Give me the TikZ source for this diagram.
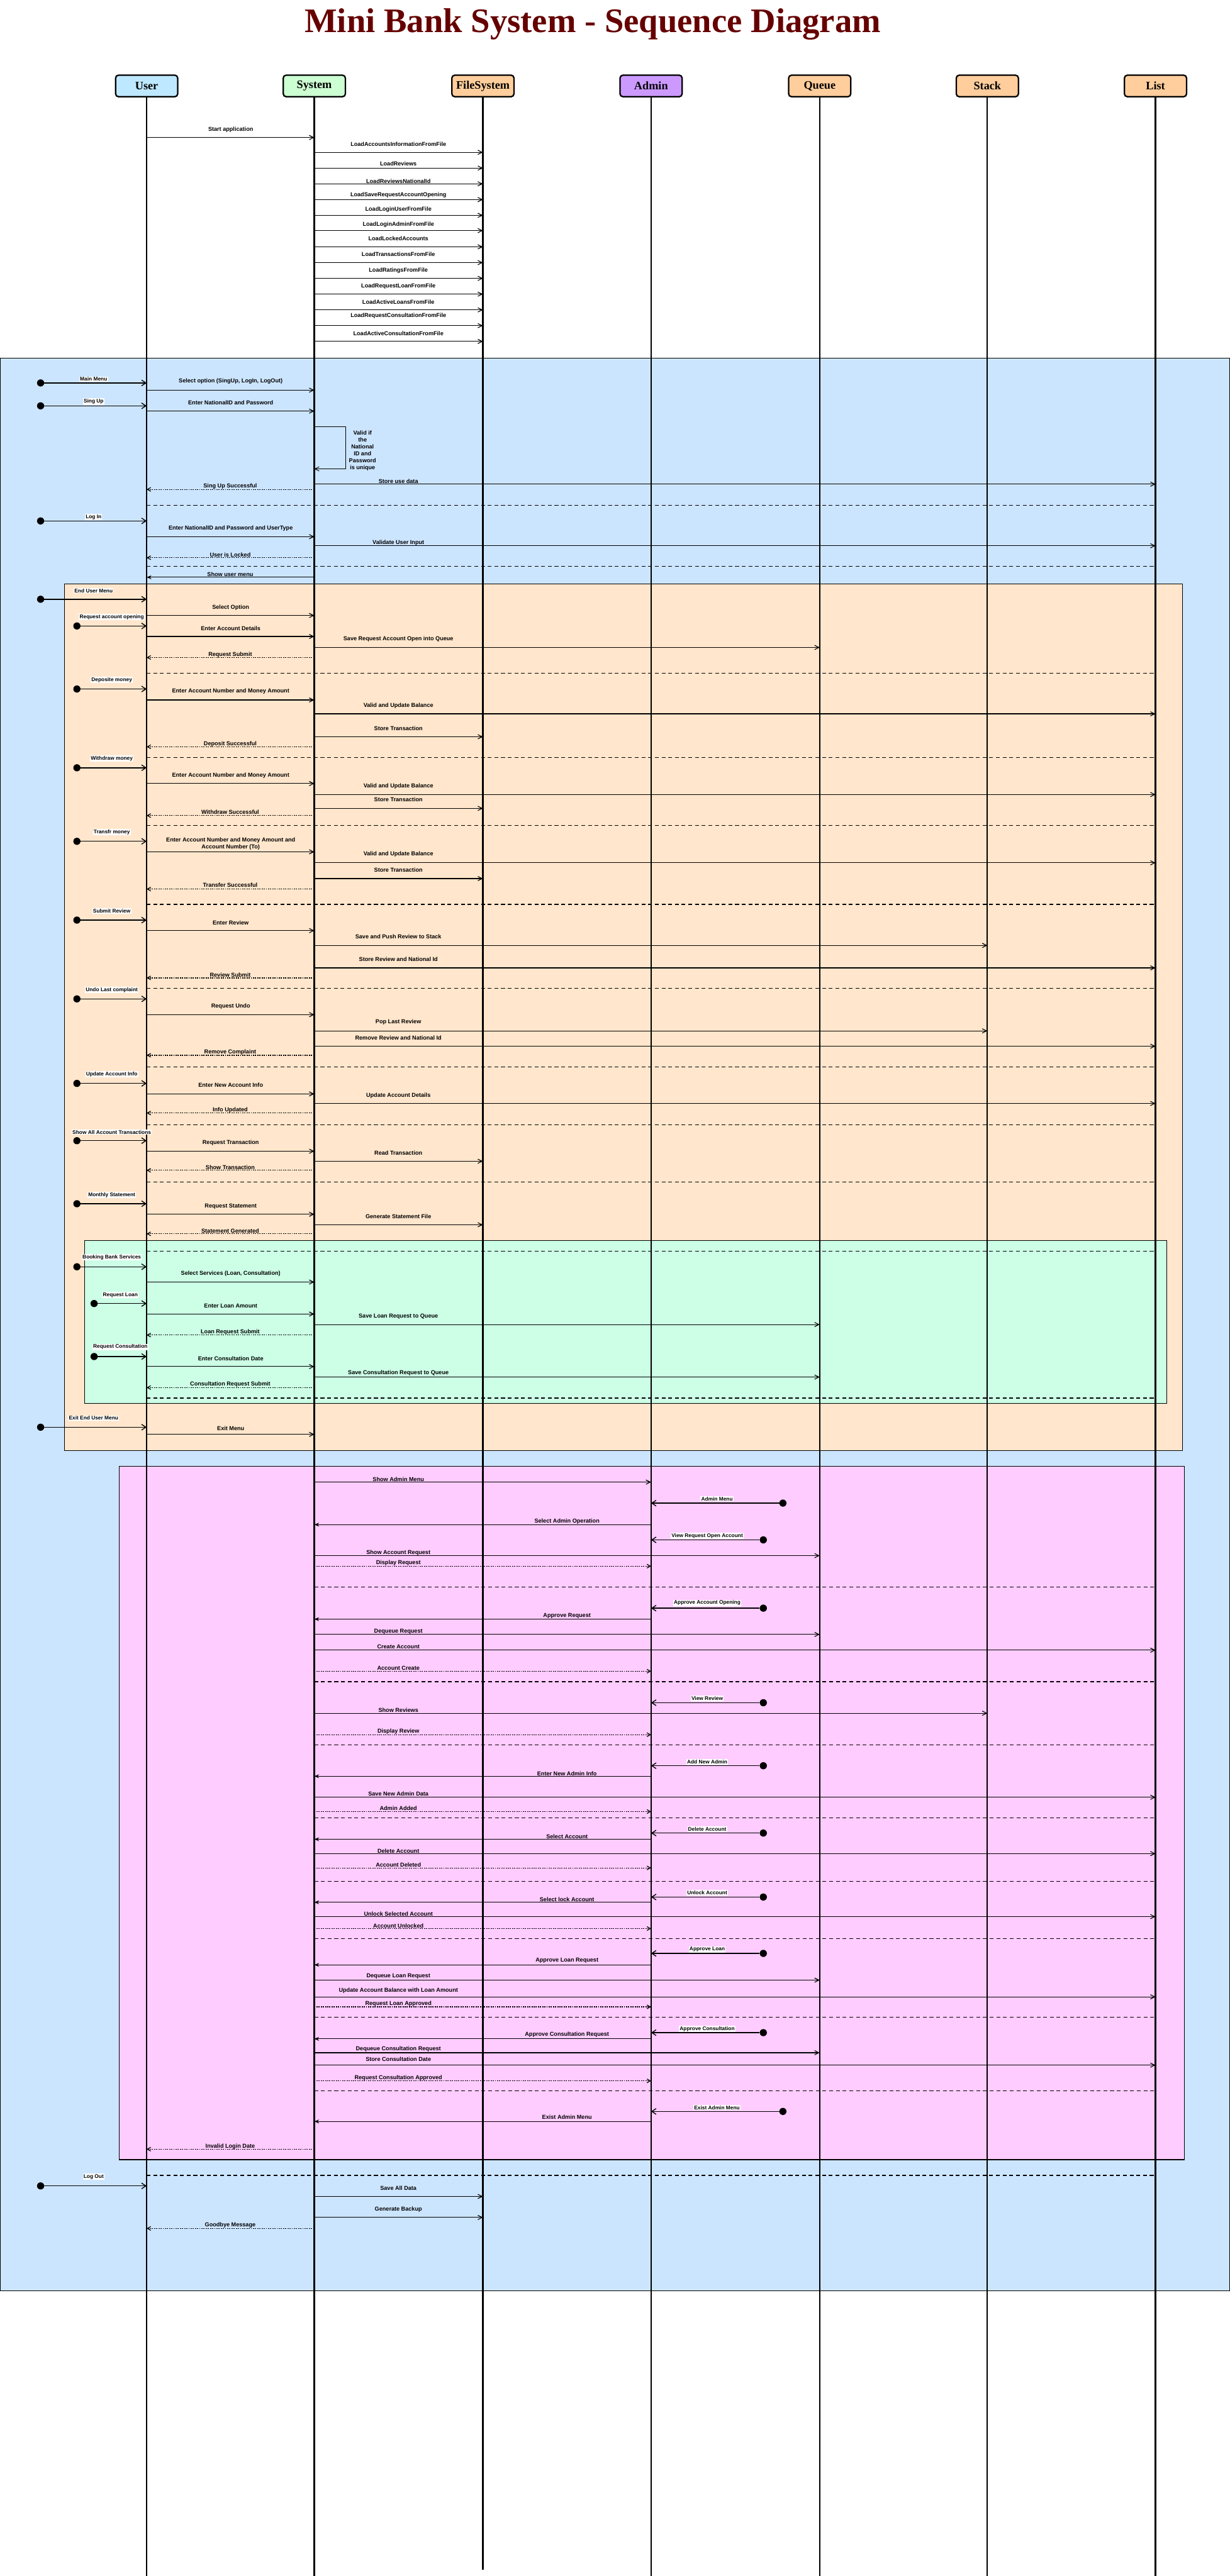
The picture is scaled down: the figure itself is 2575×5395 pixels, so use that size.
\documentclass[tikz,border=0pt]{standalone}
\usepackage{fontspec}
\setmainfont{Liberation Sans}
\newfontfamily\titlefont{Liberation Serif}
\usepackage{tikz}
\usetikzlibrary{arrows.meta, calc}
\usepackage{xcolor}
\definecolor{titlered}{RGB}{102, 0, 0}
\definecolor{userblue}{RGB}{190, 232, 255}
\definecolor{sysgreen}{RGB}{204, 255, 210}
\definecolor{storeorange}{RGB}{255, 206, 156}
\definecolor{adminpurple}{RGB}{204, 153, 255}
\definecolor{frameblue}{RGB}{204, 229, 255}
\definecolor{frameorange}{RGB}{255, 230, 204}
\definecolor{framegreen}{RGB}{204, 255, 230}
\definecolor{framepink}{RGB}{255, 204, 255}

% style, from, to, arrow y, label y, text
\newcommand{\seqmsg}[6]{%
  \draw[#1] (#2 |- 0,#4) -- (#3 |- 0,#4);
  \node[msglabel] at ($(#2 |- 0,#5)!176pt!(#3 |- 0,#5)$) {#6};}
% name, lifeline, x, y, label y, text
\newcommand{\seqstart}[6]{%
  \node[startdot] (#1) at (#3,#4) {};
  \draw[entry] (#1) -- (#2 |- #1);
  \node[dotlabel] at ($(#1 |- 0,#5)!0.5!(#2 |- 0,#5)$) {#6};}
\newcommand{\seqsep}[3]{\draw[sep] (#1 |- 0,#3) -- (#2 |- 0,#3);}

\begin{document}
\begin{tikzpicture}[
  x=1pt, y=-1pt,
  actor/.style={draw=black, line width=3pt, rounded corners=6pt, minimum width=130pt, minimum height=45pt,
    font=\titlefont\fontsize{24}{28}\selectfont\bfseries},
  lifeline/.style={line width=3pt},
  frame/.style={draw=black, line width=1.5pt},
  call/.style={line width=1.5pt, -{Straight Barb[length=9pt, width=9pt]}},
  back/.style={line width=1.5pt, -{Stealth[length=10pt, width=8pt]}},
  ret/.style={line width=1.6pt, dash pattern=on 2.5pt off 2pt, -{Straight Barb[length=7pt, width=8pt]}},
  entry/.style={line width=1.8pt, -{Straight Barb[length=9pt, width=12pt]}},
  sep/.style={line width=1.5pt, dash pattern=on 8pt off 6pt},
  startdot/.style={circle, fill=black, inner sep=0pt, minimum size=15pt},
  msglabel/.style={font=\fontsize{12}{15}\selectfont\bfseries, inner sep=0pt, align=center},
  dotlabel/.style={fill=white, inner sep=1.5pt, font=\fontsize{11}{13}\selectfont\bfseries}
]
  \useasboundingbox (0,0) rectangle (2575,5395);
  \fill[white] (0,0) rectangle (2575,5395);

  \node[anchor=base, text=titlered, font=\titlefont\fontsize{72}{80}\selectfont\bfseries] (title) at (1241,68)
    {Mini Bank System - Sequence Diagram};

  \draw[frame, fill=frameblue]   (0,750) rectangle (2575,4798);
  \draw[frame, fill=frameorange] (135,1223) rectangle (2475,3038);
  \draw[frame, fill=framegreen]  (177,2598) rectangle (2443,2939);
  \draw[frame, fill=framepink]   (250,3071) rectangle (2480,4523);

  \node[actor, fill=userblue]    (user)    at (307,180)  {User};
  \node[actor, fill=sysgreen]    (system)  at (658,180)  {System};
  \node[actor, fill=storeorange] (filesys) at (1011,180) {FileSystem};
  \node[actor, fill=adminpurple] (admin)   at (1363,180) {Admin};
  \node[actor, fill=storeorange] (queue)   at (1716,180) {Queue};
  \node[actor, fill=storeorange] (stack)   at (2067,180) {Stack};
  \node[actor, fill=storeorange] (list)    at (2419,180) {List};

  \foreach \n in {user, system, admin, queue, stack, list}
    \draw[lifeline] (\n.south) -- (\n |- 0,5395);
  \draw[lifeline] (filesys.south) -- (filesys |- 0,5382);

  \seqmsg{call}{user}{system}{288}{271}{Start application}
  \foreach \ay/\ly/\txt in {319/302/LoadAccountsInformationFromFile, 352/343/LoadReviews,
      385/379/LoadReviewsNationalId, 418/408/LoadSaveRequestAccountOpening,
      451/439/LoadLoginUserFromFile, 483/470/LoadLoginAdminFromFile,
      517/500/LoadLockedAccounts, 550/532/LoadTransactionsFromFile,
      583/566/LoadRatingsFromFile, 616/600/LoadRequestLoanFromFile,
      649/632/LoadActiveLoansFromFile, 682/662/LoadRequestConsultationFromFile,
      715/698/LoadActiveConsultationFromFile}
    {\seqmsg{call}{system}{filesys}{\ay}{\ly}{\txt}}

  \seqstart{mainmenu}{user}{85}{802}{794}{Main Menu}
  \seqmsg{call}{user}{system}{817}{799}{Select option (SingUp, LogIn, LogOut)}
  \seqstart{singup}{user}{85}{850}{841}{Sing Up}
  \seqmsg{call}{user}{system}{861}{843}{Enter NationalID and Password}
  \draw[line width=1.2pt, -{Straight Barb[length=9pt, width=9pt]}] (system |- 0,893) -- ++(66,0) |- (system |- 0,982);
  \node[msglabel, font=\fontsize{12}{14.5}\selectfont\bfseries] (unique) at (759,944)
    {Valid if\\the\\National\\ID and\\Password\\is unique};
  \seqmsg{call}{system}{list}{1014}{1008}{Store use data}
  \seqmsg{ret}{system}{user}{1025}{1019}{Sing Up Successful}
  \seqsep{user}{list}{1058}
  \seqstart{login}{user}{85}{1091}{1083}{Log In}
  \seqmsg{call}{user}{system}{1124}{1107}{Enter NationalID and Password and UserType}
  \seqmsg{call}{system}{list}{1143}{1137}{Validate User Input}
  \seqmsg{ret}{system}{user}{1168}{1162}{User is Locked}
  \seqsep{user}{list}{1186}
  \seqmsg{back}{system}{user}{1209}{1203}{Show user menu}

  \seqstart{endmenu}{user}{85}{1255}{1237}{End User Menu}
  \seqmsg{call}{user}{system}{1289}{1272}{Select Option}
  \seqstart{reqopen}{user}{161}{1311}{1292}{Request account opening}
  \seqmsg{call}{user}{system}{1333}{1316}{Enter Account Details}
  \seqmsg{call}{system}{queue}{1356}{1338}{Save Request Account Open into Queue}
  \seqmsg{ret}{system}{user}{1377}{1371}{Request Submit}
  \seqsep{user}{list}{1410}
  \seqstart{deposit}{user}{161}{1443}{1424}{Deposite money}
  \seqmsg{call}{user}{system}{1466}{1448}{Enter Account Number and Money Amount}
  \seqmsg{call}{system}{list}{1495}{1478}{Valid and Update Balance}
  \seqmsg{call}{system}{filesys}{1543}{1525}{Store Transaction}
  \seqmsg{ret}{system}{user}{1564}{1558}{Deposit Successful}
  \seqsep{user}{list}{1586}
  \seqstart{withdraw}{user}{161}{1608}{1589}{Withdraw money}
  \seqmsg{call}{user}{system}{1641}{1624}{Enter Account Number and Money Amount}
  \seqmsg{call}{system}{list}{1664}{1646}{Valid and Update Balance}
  \seqmsg{call}{system}{filesys}{1693}{1675}{Store Transaction}
  \seqmsg{ret}{system}{user}{1708}{1701}{Withdraw Successful}
  \seqsep{user}{list}{1729}
  \seqstart{transfer}{user}{161}{1762}{1743}{Transfr money}
  \seqmsg{call}{user}{system}{1784}{1767}{Enter Account Number and Money Amount and\\Account Number (To)}
  \seqmsg{call}{system}{list}{1807}{1789}{Valid and Update Balance}
  \seqmsg{call}{system}{filesys}{1840}{1822}{Store Transaction}
  \seqmsg{ret}{system}{user}{1862}{1854}{Transfer Successful}
  \seqsep{user}{list}{1894}
  \seqstart{review}{user}{161}{1927}{1908}{Submit Review}
  \seqmsg{call}{user}{system}{1949}{1932}{Enter Review}
  \seqmsg{call}{system}{stack}{1980}{1962}{Save and Push Review to Stack}
  \seqmsg{call}{system}{list}{2027}{2009}{Store Review and National Id}
  \seqmsg{ret}{system}{user}{2048}{2042}{Review Submit}
  \seqsep{user}{list}{2070}
  \seqstart{undo}{user}{161}{2092}{2073}{Undo Last complaint}
  \seqmsg{call}{user}{system}{2125}{2108}{Request Undo}
  \seqmsg{call}{system}{stack}{2159}{2141}{Pop Last Review}
  \seqmsg{call}{system}{list}{2191}{2174}{Remove Review and National Id}
  \seqmsg{ret}{system}{user}{2210}{2204}{Remove Complaint}
  \seqsep{user}{list}{2235}
  \seqstart{update}{user}{161}{2269}{2250}{Update Account Info}
  \seqmsg{call}{user}{system}{2291}{2273}{Enter New Account Info}
  \seqmsg{call}{system}{list}{2311}{2295}{Update Account Details}
  \seqmsg{ret}{system}{user}{2331}{2325}{Info Updated}
  \seqsep{user}{list}{2356}
  \seqstart{showall}{user}{161}{2389}{2371}{Show All Account Transactions}
  \seqmsg{call}{user}{system}{2411}{2394}{Request Transaction}
  \seqmsg{call}{system}{filesys}{2432}{2415}{Read Transaction}
  \seqmsg{ret}{system}{user}{2451}{2445}{Show Transaction}
  \seqsep{user}{list}{2475}
  \seqstart{monthly}{user}{161}{2521}{2503}{Monthly Statement}
  \seqmsg{call}{user}{system}{2543}{2526}{Request Statement}
  \seqmsg{call}{system}{filesys}{2565}{2548}{Generate Statement File}
  \seqmsg{ret}{system}{user}{2584}{2578}{Statement Generated}

  \seqsep{user}{list}{2620}
  \seqstart{booking}{user}{161}{2653}{2633}{Booking Bank Services}
  \seqmsg{call}{user}{system}{2685}{2668}{Select Services (Loan, Consultation)}
  \seqstart{reqloan}{user}{197}{2730}{2712}{Request Loan}
  \seqmsg{call}{user}{system}{2752}{2735}{Enter Loan Amount}
  \seqmsg{call}{system}{queue}{2774}{2757}{Save Loan Request to Queue}
  \seqmsg{ret}{system}{user}{2796}{2790}{Loan Request Submit}
  \seqstart{reqcons}{user}{197}{2841}{2821}{Request Consultation}
  \seqmsg{call}{user}{system}{2862}{2845}{Enter Consultation Date}
  \seqmsg{call}{system}{queue}{2884}{2875}{Save Consultation Request to Queue}
  \seqmsg{ret}{system}{user}{2906}{2899}{Consultation Request Submit}
  \seqsep{user}{list}{2928}

  \seqstart{exitmenu}{user}{85}{2989}{2970}{Exit End User Menu}
  \seqmsg{call}{user}{system}{3004}{2992}{Exit Menu}

  \seqmsg{call}{system}{admin}{3104}{3098}{Show Admin Menu}
  \seqstart{adminmenu}{admin}{1639}{3148}{3139}{Admin Menu}
  \seqmsg{back}{admin}{system}{3193}{3186}{Select Admin Operation}
  \seqstart{viewopen}{admin}{1598}{3225}{3217}{View Request Open Account}
  \seqmsg{call}{system}{queue}{3258}{3252}{Show Account Request}
  \seqmsg{ret}{system}{admin}{3280}{3273}{Display Request}
  \seqsep{system}{list}{3324}
  \seqstart{approveopen}{admin}{1598}{3368}{3357}{Approve Account Opening}
  \seqmsg{back}{admin}{system}{3391}{3384}{Approve Request}
  \seqmsg{call}{system}{queue}{3423}{3417}{Dequeue Request}
  \seqmsg{call}{system}{list}{3456}{3449}{Create Account}
  \seqmsg{ret}{system}{admin}{3500}{3494}{Account Create}
  \seqsep{system}{list}{3522}
  \seqstart{viewreview}{admin}{1598}{3566}{3557}{View Review}
  \seqmsg{call}{system}{stack}{3588}{3582}{Show Reviews}
  \seqmsg{ret}{system}{admin}{3633}{3626}{Display Review}
  \seqsep{system}{list}{3654}
  \seqstart{addadmin}{admin}{1598}{3698}{3690}{Add New Admin}
  \seqmsg{back}{admin}{system}{3720}{3714}{Enter New Admin Info}
  \seqmsg{call}{system}{list}{3764}{3757}{Save New Admin Data}
  \seqmsg{ret}{system}{admin}{3794}{3787}{Admin Added}
  \seqsep{system}{list}{3807}
  \seqstart{delacc}{admin}{1598}{3839}{3831}{Delete Account}
  \seqmsg{back}{admin}{system}{3852}{3846}{Select Account}
  \seqmsg{call}{system}{list}{3882}{3876}{Delete Account}
  \seqmsg{ret}{system}{admin}{3912}{3906}{Account Deleted}
  \seqsep{system}{list}{3940}
  \seqstart{unlock}{admin}{1598}{3973}{3964}{Unlock Account}
  \seqmsg{back}{admin}{system}{3984}{3978}{Select lock Account}
  \seqmsg{call}{system}{list}{4014}{4008}{Unlock Selected Account}
  \seqmsg{ret}{system}{admin}{4039}{4033}{Account Unlocked}
  \seqsep{system}{list}{4060}
  \seqstart{approveloan}{admin}{1598}{4091}{4083}{Approve Loan}
  \seqmsg{back}{admin}{system}{4115}{4106}{Approve Loan Request}
  \seqmsg{call}{system}{queue}{4147}{4139}{Dequeue Loan Request}
  \seqmsg{call}{system}{list}{4182}{4169}{Update Account Balance with Loan Amount}
  \seqmsg{ret}{system}{admin}{4203}{4196}{Request Loan Approved}
  \seqsep{system}{list}{4225}
  \seqstart{approvecons}{admin}{1598}{4257}{4249}{Approve Consultation}
  \seqmsg{back}{admin}{system}{4270}{4261}{Approve Consultation Request}
  \seqmsg{call}{system}{queue}{4299}{4291}{Dequeue Consultation Request}
  \seqmsg{call}{system}{list}{4325}{4313}{Store Consultation Date}
  \seqmsg{ret}{system}{admin}{4358}{4352}{Request Consultation Approved}
  \seqsep{system}{list}{4379}
  \seqstart{existadmin}{admin}{1639}{4422}{4414}{Exist Admin Menu}
  \seqmsg{back}{admin}{system}{4443}{4434}{Exist Admin Menu}
  \seqmsg{ret}{system}{user}{4501}{4495}{Invalid Login Date}

  \seqsep{user}{list}{4556}
  \seqstart{logout}{user}{85}{4578}{4559}{Log Out}
  \seqmsg{call}{system}{filesys}{4600}{4583}{Save All Data}
  \seqmsg{call}{system}{filesys}{4644}{4627}{Generate Backup}
  \seqmsg{ret}{system}{user}{4667}{4660}{Goodbye Message}
\end{tikzpicture}
\end{document}
